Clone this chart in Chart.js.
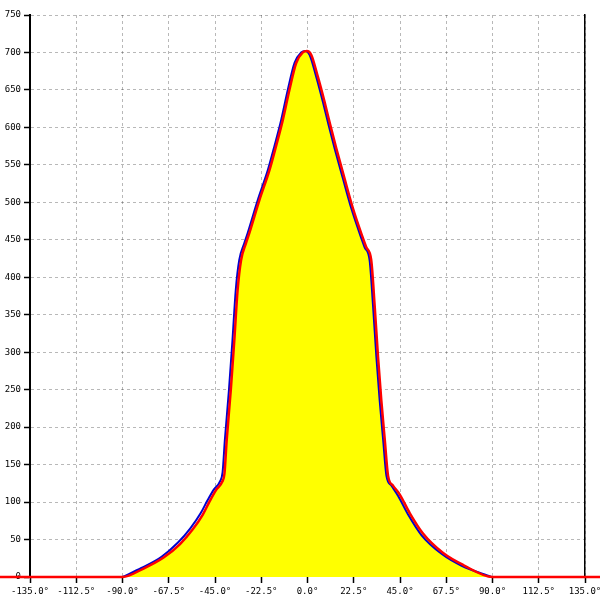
<!DOCTYPE html>
<html>
<head>
<meta charset="utf-8">
<script src="https://cdn.jsdelivr.net/npm/chart.js@4/dist/chart.umd.min.js"></script>
<style>
  html, body { margin: 0; padding: 0; background: #ffffff; }
  canvas { display: block; }
</style>
</head>
<body>
<canvas id="c" width="600" height="600"></canvas>
<script>
// Angle (degrees) and intensity values
const redDeg = [-150, -90, -80, -70, -62, -56, -51, -47.8, -44.5, -41.5, -40.4, -39.3, -37.3, -35.6, -34, -32.3, -30, -28.3, -23.4, -18.5, -15.3, -12, -8.8, -5.5, -2.3, -0.3, 1.8, 5, 8.3, 11, 14, 18, 22.1, 27, 28.6, 31, 32.7, 34.3, 35.9, 37.6, 39.2, 41.6, 44.9, 49.8, 56.2, 66, 75.8, 90, 150];
const redVal = [0, 0, 11, 26, 44, 63, 83, 100, 116, 127, 138, 183, 250, 316, 383, 423, 445, 459, 503, 543, 575, 610, 650, 686, 700, 702, 697, 668, 634, 604, 572, 532, 492, 452, 440, 423, 361, 294, 236, 183, 135, 122, 110, 85, 58, 32, 16, 0, 0];

const blueDeg = [-90, -80.8, -71, -63, -57, -52, -48.7, -45.5, -42.5, -41.3, -40.2, -38.2, -36.5, -34.9, -33.2, -30.8, -29.1, -24.2, -19.3, -16.1, -12.8, -9.6, -6.3, -3.1, -1.1, 1.0, 4.2, 7.5, 10.2, 13.2, 17.2, 21.3, 26.2, 27.8, 30.2, 31.9, 33.5, 35.1, 36.8, 38.4, 40.8, 44.1, 49, 55.4, 65.2, 75, 89.5];
const blueVal = [0, 12, 27, 46, 65, 85, 102, 117, 128, 140, 183, 250, 316, 383, 423, 445, 459, 503, 543, 575, 610, 650, 686, 700, 702, 697, 668, 634, 604, 572, 532, 492, 452, 440, 423, 361, 294, 236, 183, 135, 122, 108, 83, 56, 31, 15, 0];

const xMin = -135, xMax = 135, xStep = 22.5;
const yMin = 0, yMax = 750, yStep = 50;

const redPts = redDeg.map((x, i) => ({ x: x, y: redVal[i] }));
const bluePts = blueDeg.map((x, i) => ({ x: x, y: blueVal[i] }));

const FONT = { family: '"DejaVu Sans Mono", "Liberation Mono", monospace', size: 9 };
const gridCol = 'rgba(0,0,0,0.28)';

new Chart(document.getElementById('c'), {
  type: 'line',
  data: {
    datasets: [
      { // yellow area under the curve
        data: redPts, borderWidth: 0, borderColor: 'rgba(0,0,0,0)',
        backgroundColor: '#ffff00', fill: 'origin', pointRadius: 0,
        cubicInterpolationMode: 'monotone', order: 3, clip: false
      },
      {
        data: bluePts, borderColor: '#0000d0', borderWidth: 2, fill: false,
        pointRadius: 0, cubicInterpolationMode: 'monotone', order: 2, clip: false
      },
      {
        data: redPts, borderColor: '#ff0000', borderWidth: 2.5, fill: false,
        pointRadius: 0, cubicInterpolationMode: 'monotone', order: 1, clip: false
      }
    ]
  },
  options: {
    responsive: false,
    animation: false,
    devicePixelRatio: 1,
    layout: { padding: { top: 15, right: 15, left: 0, bottom: 0 } },
    plugins: { legend: { display: false }, tooltip: { enabled: false }, title: { display: false } },
    scales: {
      x: {
        type: 'linear', min: xMin, max: xMax, z: 1,
        afterFit: s => { s.height = 23; s.paddingLeft = 0; s.paddingRight = 0; },
        ticks: {
          stepSize: xStep, color: '#000', font: FONT, padding: 3, maxRotation: 0, autoSkip: false,
          callback: v => Number(v).toFixed(1) + '°'
        },
        grid: {
          color: ctx => (ctx.tick && (ctx.tick.value === xMin)) ? 'rgba(0,0,0,0)' : gridCol,
          lineWidth: 1, drawTicks: true, tickLength: 6,
          tickColor: '#000', tickWidth: 1.5, tickBorderDash: []
        },
        border: { display: false, dash: [3, 3] }
      },
      y: {
        type: 'linear', min: yMin, max: yMax, z: 1,
        afterFit: s => { s.width = 30; },
        ticks: { stepSize: yStep, color: '#000', font: FONT, padding: 3 },
        grid: {
          color: ctx => (ctx.tick && ctx.tick.value === 0) ? 'rgba(0,0,0,0)' : gridCol,
          lineWidth: 1, drawTicks: true, tickLength: 6,
          tickColor: '#000', tickWidth: 1.5, tickBorderDash: []
        },
        border: { display: true, color: '#000', width: 2, dash: [3, 3] }
      },
      y2: {
        type: 'linear', position: 'right', min: yMin, max: yMax,
        afterFit: s => { s.width = 0; },
        ticks: { display: false },
        grid: { display: false, drawTicks: false },
        border: { display: true, color: '#000', width: 1.5 }
      }
    }
  }
});
</script>
</body>
</html>
